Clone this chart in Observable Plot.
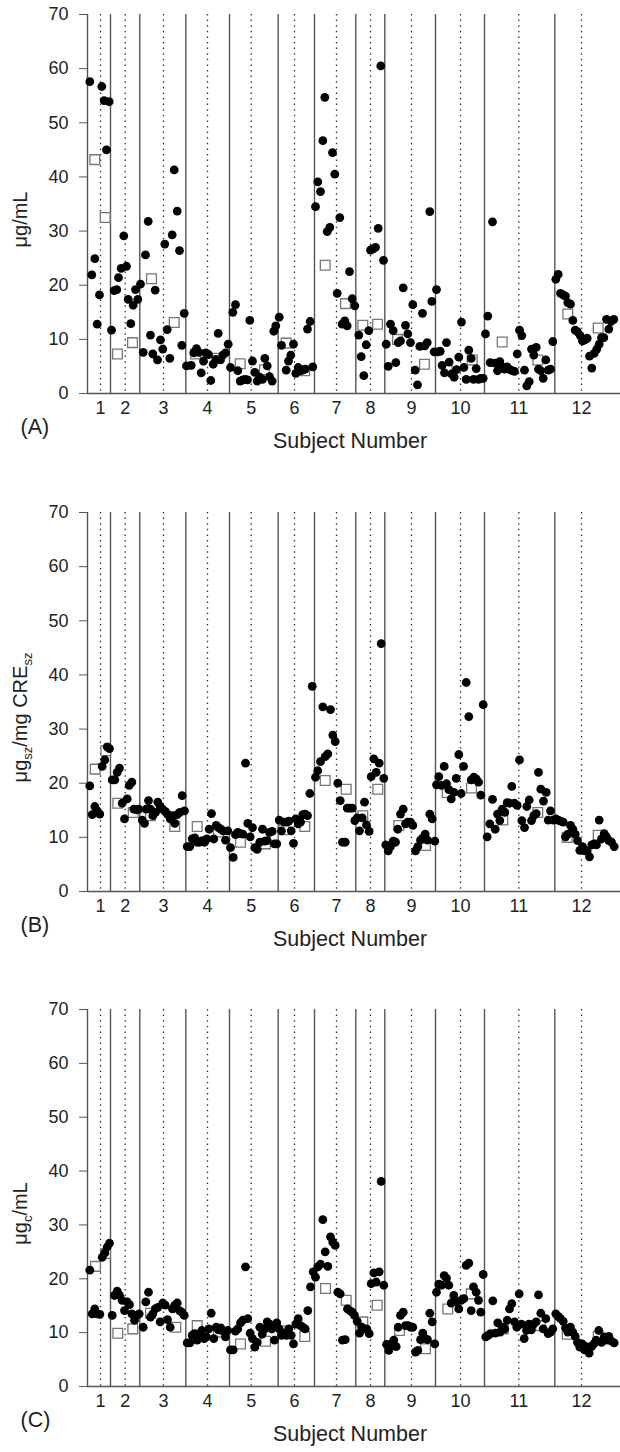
<!DOCTYPE html>
<html><head><meta charset="utf-8">
<script src="https://cdn.jsdelivr.net/npm/d3@7"></script>
<script src="https://cdn.jsdelivr.net/npm/@observablehq/plot@0.6"></script>
<style>
body{margin:0;background:#fff;}
#chart svg{display:block;}
</style></head><body><div id="chart"></div>
<script>
// x = position along the sampling sequence (study order), y = concentration
const subjectLabels = ["1","2","3","4","5","6","7","8","9","10","11","12"];
const periodMarks = [13, 37.7, 76, 120, 163.7, 207, 249, 283, 324, 373, 431.3, 494];
const subjectBounds = [23, 52.3, 98.3, 142, 190.7, 227, 268.3, 297.3, 348, 397, 467.3];
const yTicks = [0, 10, 20, 30, 40, 50, 60, 70];

const samplesA = [
[2.3,57.6],[4.3,21.9],[7.3,24.9],[9.7,12.8],[12,18.2],[14.3,56.7],[16.7,54.1],[19,45.0],[21.7,53.9],
[24,11.7],[26.7,19.0],[29.3,19.2],[31,21.4],[33.7,23.1],[36.3,29.1],[39,23.5],[40.7,17.4],[43.3,12.9],[45.7,16.3],[48,19.2],[50.3,17.4],
[53,20.2],[55.7,7.6],[58,25.6],[60.7,31.8],[63,10.8],[65.3,7.3],[67.7,19.1],[70,6.2],[73,9.9],[75.3,8.2],[77.3,27.6],[79.7,11.8],[82.3,6.5],[84.7,29.3],[86.7,41.3],[89.7,33.7],[92,26.4],[94.3,8.9],[96.7,14.8],
[99,5.1],[103.7,5.2],[106.3,7.5],[109,8.3],[111.3,7.6],[113.7,3.8],[116,6.0],[118.3,7.5],[121,7.2],[123.3,2.4],[125.7,5.4],[128.3,6.3],[130.7,11.1],[133,6.2],[135.3,7.1],[138,7.5],[140.7,9.1],
[143,4.8],[145.3,15.0],[148,16.4],[150.3,4.2],[152.7,2.3],[155.3,2.5],[157.7,2.6],[160,2.5],[162.3,13.5],[165,6.0],[167.3,3.9],[169.7,2.3],[172.3,3.0],[175,2.6],[177.3,6.5],[179.7,5.1],[182,3.1],[184.7,2.3],[186.3,11.5],[188.3,12.5],
[191.7,14.1],[194,8.9],[198.7,4.3],[201,6.0],[203.3,7.1],[206,9.1],[208.3,3.7],[210.7,4.8],[213,4.2],[215.3,4.3],[217.7,4.5],[220,11.9],[222.7,13.3],[225.3,4.9],
[228,34.5],[230.3,39.1],[233,37.3],[235.3,46.7],[237.3,54.7],[239.7,29.9],[242.3,30.7],[245,44.5],[247.3,40.5],[249.7,18.5],[252.3,32.5],[254.7,12.8],[257.3,13.4],[259.7,12.5],[262,22.5],[264.7,17.5],[267.3,16.2],
[271.3,10.8],[273.7,6.8],[276.3,3.3],[278.7,9.0],[281.3,11.6],[283,26.5],[285.7,26.7],[288,27.0],[290.7,30.5],[293.3,60.5],[296,24.6],
[298.7,9.1],[300.7,5.0],[303,12.8],[305.7,11.6],[308.3,5.7],[310.7,9.4],[313,9.7],[315.7,19.5],[318,12.6],[320.3,11.0],[323,9.4],[325.3,16.4],[327.7,4.3],[330,1.6],[332.3,8.7],[335,14.8],[337.3,8.8],[339.7,9.4],[342.3,33.6],[344.3,17.0],[346.7,7.7],
[349,19.2],[350.3,7.7],[352.7,7.8],[354.7,5.2],[357,3.8],[359,9.4],[361.7,5.8],[364,3.6],[366.7,3.0],[369,4.4],[371.3,6.7],[374,13.2],[376.3,4.8],[378.7,2.6],[381.3,8.0],[383.7,6.5],[386,2.6],[388.7,4.6],[391,2.6],[393.3,2.8],[395.7,2.8],
[398,11.0],[400.3,14.3],[402.7,5.7],[405,31.7],[407.7,5.6],[410,4.2],[412.3,5.9],[414.7,4.9],[417,4.5],[419.7,4.9],[422.3,4.4],[424.7,4.2],[427,4.1],[429.7,7.3],[432,11.7],[434.3,10.7],[437,4.3],[439.3,1.4],[441.7,2.2],[444,8.2],[446.3,7.1],[448.7,8.5],[451,4.5],[453.3,4.2],[455.7,2.8],[458.3,6.2],[460.7,4.3],[463,4.5],[465.3,9.6],
[468.3,21.1],[470.7,22.0],[473,18.5],[475.7,18.2],[478,18.0],[480.3,16.8],[483,16.5],[485.3,13.5],[487.7,11.7],[490,11.4],[492.7,10.7],[495,9.7],[497.3,9.9],[499.7,10.2],[502,6.9],[504.3,4.7],[506.7,7.4],[509.3,8.2],[511.7,9.1],[514,10.3],[516.3,10.3],[519,13.7],[521.3,11.9],[523.7,13.3],[526.3,13.7]
];
const meansA = [[7.3,43.2],[17.7,32.5],[30,7.3],[45,9.4],[64,21.2],[86.7,13.1],[108,7.3],[130,6.5],[152.7,5.5],[177,4.4],[198.7,9.3],[217.3,4.2],[237.7,23.7],[258,16.6],[275.3,12.6],[290,12.8],[310,10.0],[337,5.4],[359.7,4.8],[384.7,6.2],[414.7,9.5],[450.3,6.2],[480.3,14.7],[510.7,12.1]];

const samplesB = [
[2.3,19.5],[4.7,14.2],[7.3,15.7],[9.7,14.9],[12.3,14.3],[14.7,23.1],[17.3,24.3],[19.7,26.7],[22,26.4],
[24.7,20.6],[27.3,20.6],[29.7,22.0],[32,22.8],[34.7,16.3],[37,13.4],[39.7,17.1],[41.7,19.6],[44.3,20.2],[46.3,15.2],[49,15.1],[51.3,15.2],
[54.7,13.2],[57,12.6],[58.7,15.2],[61,16.8],[63,15.2],[65.3,14.0],[68,14.6],[70.3,16.5],[72.7,15.7],[75,15.2],[77.7,14.8],[80,14.3],[82.7,13.4],[85,14.0],[87.3,12.6],[89.7,14.2],[92.3,14.6],[94.7,17.7],[97,14.9],
[99.7,8.3],[102.3,8.3],[104.7,9.7],[107.3,9.9],[109.7,9.1],[112,9.1],[114.7,9.4],[117,9.1],[119.3,9.7],[121.7,11.5],[124,14.4],[126.3,9.7],[128.7,12.2],[131,11.8],[133.3,11.5],[135.7,11.2],[138,9.5],[140.3,11.2],
[143,8.1],[145.7,6.3],[148,10.5],[150.3,10.9],[153,10.7],[155.3,10.6],[158,23.7],[160.3,12.6],[162.7,10.1],[165,11.8],[167.3,8.1],[169.7,7.8],[172.3,9.1],[175,11.5],[177.3,9.3],[179.7,9.4],[182,10.9],[184.7,11.1],[187,8.8],[189.3,8.8],
[191.7,13.2],[194,11.2],[196.7,12.8],[199,12.8],[201.3,13.0],[203.7,11.2],[206,8.9],[208.3,13.4],[210.7,12.5],[213,12.8],[215.3,14.2],[217.7,14.3],[220,14.0],[222.3,18.1],[224.7,37.9],
[228,21.1],[230.3,22.3],[233,24.0],[235.3,34.1],[237.7,24.9],[240.3,25.4],[243,33.6],[245.3,28.9],[247.7,27.7],[250.3,20.0],[252.7,16.8],[255,9.1],[257.7,9.1],[259.7,15.4],[262.3,15.4],[264.7,15.4],[267.3,13.1],
[269.7,13.6],[272,11.2],[274.7,13.6],[277,16.5],[279,12.3],[281.7,11.1],[283.7,21.2],[286.3,24.5],[288.7,22.0],[291.7,23.7],[293.7,45.8],[296.3,20.9],
[298.3,8.6],[300.7,7.5],[303,8.3],[305.7,9.3],[308,9.1],[310.3,11.5],[313,14.3],[315.7,15.2],[318,12.5],[320.3,12.8],[323,12.8],[325.3,12.2],[328,7.5],[330.3,8.3],[333,9.5],[335.3,9.9],[337.7,10.6],[340,9.5],[342.3,14.3],[344.7,13.4],[347.3,9.3],
[349,19.7],[351.3,21.2],[354,19.6],[356.7,23.1],[359,19.9],[361.3,18.8],[363.7,17.1],[366.3,18.3],[368.7,20.9],[371.3,25.3],[373.7,18.1],[376,23.1],[378.7,38.6],[381.3,32.3],[383.7,20.6],[386.3,21.1],[388.7,20.8],[391,20.2],[393.3,17.8],[395.7,34.5],
[399.7,10.1],[402.3,12.5],[405,17.0],[407.7,11.5],[410,14.3],[412.3,13.1],[414.7,15.2],[417.3,14.6],[419.7,16.4],[422,16.3],[424.3,19.4],[427,16.3],[429.7,15.9],[432,24.3],[434.3,13.1],[437,11.8],[439.3,15.7],[441.7,16.9],[444,13.1],[446.3,14.0],[448.7,14.4],[451,22.0],[453.3,18.9],[456,16.7],[458.7,18.3],[460.7,13.2],[463,14.9],[465.7,13.2],
[468.3,13.4],[470.7,13.2],[473,13.0],[475.7,12.8],[478,10.1],[480.3,10.6],[483,12.2],[485.3,11.5],[487.7,10.6],[490,9.4],[492.3,7.6],[495,8.3],[497.3,7.5],[499.7,7.5],[502,6.4],[504.3,8.6],[506.7,8.8],[509,8.6],[511.7,13.2],[514,9.7],[516.7,10.7],[519,10.1],[521.3,9.4],[524,9.1],[526.7,8.3]
];
const meansB = [[7.7,22.6],[18.3,26.0],[30.3,16.3],[45.7,14.6],[63,14.0],[87.3,12.0],[109.7,12.0],[131,11.0],[153,9.1],[178,8.8],[196.3,11.4],[217.3,12.0],[237.7,20.5],[258.7,18.9],[275.3,14.0],[290.3,18.9],[311.3,12.2],[338,8.5],[359.7,18.3],[384,19.1],[415.3,13.2],[450.3,14.6],[479.7,10.0],[510.7,10.4]];

const samplesC = [
[2.3,21.6],[4.7,13.5],[7.3,14.4],[9.7,13.5],[12.3,13.4],[14.7,24.0],[17.3,24.8],[19.7,25.9],[22,26.6],
[24.7,13.2],[27,16.9],[29.7,17.7],[32,16.9],[34.7,16.0],[37,14.1],[39.7,15.7],[42,15.2],[44.3,13.5],[47,12.3],[49.3,13.2],[51.7,13.5],
[55.7,11.0],[58.3,15.7],[61,17.5],[63,12.9],[65.3,13.5],[67.7,14.4],[70.3,14.7],[72.7,12.0],[75.3,15.5],[77.7,15.1],[80,12.4],[82.7,11.0],[85,14.4],[87.3,15.1],[89.7,15.5],[92,14.1],[94.3,13.8],[96.7,13.2],
[99.7,8.1],[102.3,8.1],[104.7,9.5],[107,9.8],[109.7,8.6],[112,9.2],[114.3,10.4],[116.7,8.9],[119,9.2],[121.3,10.7],[123.7,13.6],[126.3,8.9],[128.7,11.0],[131,10.5],[133.3,10.9],[135.7,10.3],[138,9.2],[140.3,10.4],
[143,6.8],[145.7,6.8],[148,10.3],[150.3,10.7],[153,11.8],[155.3,12.3],[158,22.2],[160.3,12.6],[162.7,9.9],[165,8.9],[167.3,7.3],[169.7,8.2],[172.3,11.0],[174.7,9.7],[177.3,10.7],[179.7,12.0],[182,11.6],[184.3,10.7],[187,8.6],[189.3,11.8],
[191.7,10.7],[194,9.5],[196.3,9.9],[199,9.5],[201.3,10.7],[203.7,9.5],[206,7.9],[208.3,11.6],[210.7,12.6],[213,11.3],[215.3,11.0],[217.7,10.7],[220.3,14.1],[223,18.5],
[225.7,21.3],[228,20.3],[230.3,22.2],[233,22.7],[235.3,31.0],[237.7,25.0],[240.3,22.3],[243,27.8],[245.3,26.8],[247.7,26.2],[250.3,17.5],[252.7,17.2],[255,8.6],[257.7,8.7],[260,14.4],[262.3,14.1],[264.7,13.8],[267,13.2],
[269.7,12.1],[272,9.9],[274.3,11.0],[276.7,10.7],[279.3,10.7],[281.7,9.8],[283.7,19.1],[286.3,21.1],[288.7,19.4],[291.7,21.3],[293.7,38.1],[296.3,18.8],
[299,7.8],[301.3,6.7],[303.7,7.9],[306.3,8.6],[308.7,7.4],[310.7,11.0],[313,13.2],[315.7,13.8],[318,11.3],[320.7,11.3],[323,11.0],[325.3,11.0],[328,6.4],[330.3,6.7],[333,8.7],[335.3,9.9],[337.7,8.9],[340,8.7],[342.3,13.6],[344.7,12.0],[347.3,7.9],
[349,17.5],[351.3,19.0],[354,18.8],[356.7,20.6],[359,20.1],[361.3,18.8],[363.7,15.5],[366.3,16.9],[368.7,15.7],[371.3,14.4],[373.7,16.0],[376.3,16.3],[378.7,22.5],[381.3,22.9],[383.7,14.1],[386,18.5],[388.7,17.5],[391,16.0],[393.3,13.8],[395.7,20.8],
[398.3,9.2],[400.7,9.5],[403,9.8],[405.3,15.9],[408,9.9],[410.3,11.8],[412.7,10.1],[415,11.0],[417.3,10.7],[419.7,12.3],[422,14.4],[424.3,15.4],[427,12.0],[429.3,11.0],[431.7,17.2],[434,11.6],[436.7,8.9],[439,10.4],[441.3,11.6],[443.7,10.5],[446,11.6],[448.7,12.0],[451,17.0],[453.3,13.6],[455.7,10.7],[458.3,12.6],[460.7,9.8],[463,10.1],[465.3,10.7],
[468.3,13.5],[470.7,13.0],[473,12.6],[475.7,12.1],[478,10.9],[480.3,10.1],[483,11.0],[485.3,10.1],[487.7,9.3],[490,8.2],[492.3,7.3],[494.7,7.9],[497,6.8],[499.3,7.4],[501.7,6.2],[504,7.4],[506.3,7.9],[508.7,8.6],[511.3,10.4],[514,8.2],[516.7,9.2],[519,8.6],[521.3,9.3],[524,8.4],[526.7,8.1]
];
const meansC = [[8,22.3],[18,24.7],[30.3,9.9],[45.3,10.7],[63,13.6],[88.3,11.0],[109.7,11.3],[131,10.1],[153,7.9],[178,8.4],[196.3,10.3],[217.3,9.3],[238,18.2],[258.7,16.0],[275.3,12.0],[289.7,15.1],[312,10.4],[338,7.0],[360.3,14.4],[383.7,17.2],[415.7,10.7],[453,11.3],[479.7,9.7],[510.7,9.3]];

const FONT = "'Liberation Sans', Arial, Helvetica, sans-serif";

function panel({samples, means, height, marginTop, marginBottom, tag, ylabel}) {
  const node = Plot.plot({
    width: 620, height, marginLeft: 87, marginRight: 0, marginTop, marginBottom,
    style: {fontFamily: FONT, fontSize: "18px", background: "white", color: "#222", overflow: "visible"},
    x: {domain: [0, 533]},
    y: {domain: [0, 70]},
    marks: [
      Plot.ruleX(periodMarks, {stroke: "#333", strokeWidth: 1.3, strokeDasharray: "1.5,4.1"}),
      Plot.ruleX(subjectBounds, {stroke: "#555", strokeWidth: 1.4}),
      Plot.axisY({ticks: yTicks, tickSize: 8, tickPadding: 11, label: null, stroke: "#555"}),
      Plot.axisX({ticks: periodMarks, tickFormat: (d, i) => subjectLabels[i], tickSize: 0, tickPadding: 8, label: null}),
      Plot.ruleX([0], {stroke: "#555", strokeWidth: 1.4}),
      Plot.ruleY([0], {stroke: "#555", strokeWidth: 1.4}),
      Plot.dot(means, {x: d => d[0], y: d => d[1], symbol: "square", r: 5.5, fill: "white", stroke: "#777", strokeWidth: 1.3}),
      Plot.dot(samples, {x: d => d[0], y: d => d[1], r: 4.4, fill: "black"}),
      Plot.text([tag], {text: d => d, frameAnchor: "bottom-left", textAnchor: "start", dx: -67, dy: 40, fontSize: 21.5, fill: "#222"}),
      Plot.text(["Subject Number"], {text: d => d, frameAnchor: "bottom", dx: -4, dy: 54, fontSize: 21.5, fill: "#222"})
    ]
  });
  const cy = marginTop + (height - marginTop - marginBottom) / 2 + 16;
  const t = d3.select(node).append("text")
    .attr("transform", `translate(27,${cy}) rotate(-90)`)
    .attr("text-anchor", "middle")
    .attr("fill", "#222")
    .style("font-family", FONT)
    .style("font-size", "20px");
  let shifted = false;
  ylabel.forEach(([s, sub]) => {
    const sp = t.append("tspan").text(s);
    if (sub) { sp.attr("dy", shifted ? 0 : 5).style("font-size", "13px"); shifted = true; }
    else { if (shifted) sp.attr("dy", -5); shifted = false; }
  });
  return node;
}

const root = document.getElementById("chart");
root.appendChild(panel({samples: samplesA, means: meansA, height: 498, marginTop: 14, marginBottom: 105, tag: "(A)",
  ylabel: [["μg/mL", false]]}));
root.appendChild(panel({samples: samplesB, means: meansB, height: 498, marginTop: 14, marginBottom: 105, tag: "(B)",
  ylabel: [["μg", false], ["sz", true], ["/mg CRE", false], ["sz", true]]}));
root.appendChild(panel({samples: samplesC, means: meansC, height: 456, marginTop: 13, marginBottom: 66, tag: "(C)",
  ylabel: [["μg", false], ["c", true], ["/mL", false]]}));
</script></body></html>
